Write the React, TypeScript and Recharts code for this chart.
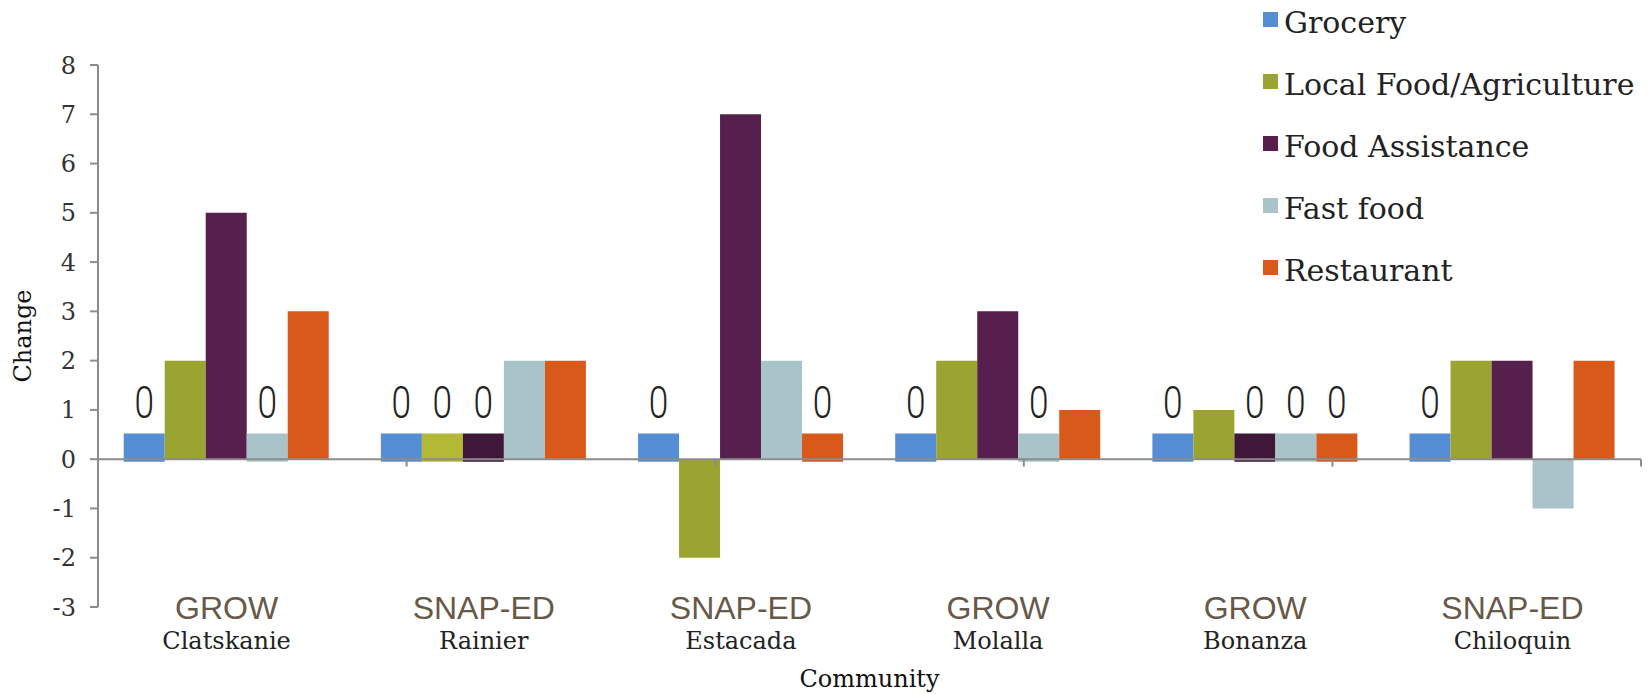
import { BarChart, Bar, XAxis, YAxis, ReferenceLine, Cell, Label } from 'recharts'

const communities = ['Clatskanie', 'Rainier', 'Estacada', 'Molalla', 'Bonanza', 'Chiloquin']
const programs = ['GROW', 'SNAP-ED', 'SNAP-ED', 'GROW', 'GROW', 'SNAP-ED']

const grocery = [0, 0, 0, 0, 0, 0]
const localFood = [2, 0, -2, 2, 1, 2]
const foodAssistance = [5, 0, 7, 3, 0, 2]
const fastFood = [0, 2, 2, 0, 0, -1]
const restaurant = [3, 2, 0, 1, 0, 2]

const yTicks = [-3, -2, -1, 0, 1, 2, 3, 4, 5, 6, 7, 8]
const edgeTicks = [1, 2, 3, 4, 5, 6]

// zero values are drawn as a short stub with a "0" on top, like the original
const ZERO_STUB: [number, number] = [-0.05, 0.52]

const series = [
  { key: 'grocery', name: 'Grocery', values: grocery, color: '#558ed5', zeroColor: '#558ed5' },
  { key: 'localFood', name: 'Local Food/Agriculture', values: localFood, color: '#9ba431', zeroColor: '#b3b935' },
  { key: 'foodAssistance', name: 'Food Assistance', values: foodAssistance, color: '#561f4c', zeroColor: '#3f1738' },
  { key: 'fastFood', name: 'Fast food', values: fastFood, color: '#a8c4c8', zeroColor: '#a8c4c8' },
  { key: 'restaurant', name: 'Restaurant', values: restaurant, color: '#d8591a', zeroColor: '#d8591a' },
]

const data = communities.map((name, i) => {
  const row: Record<string, any> = { name, program: programs[i] }
  series.forEach((s) => {
    row[s.key] = s.values[i]
  })
  return row
})

const SERIF = "'DejaVu Serif', serif"
const SANS = "'Liberation Sans', Arial, sans-serif"

function CommunityTick(props: any) {
  const { x, y, payload, index } = props
  return (
    <g>
      <text x={x} y={y + 12} textAnchor="middle" fill="#675848" fontSize={32} fontFamily={SANS}>
        {programs[index] ?? ''}
      </text>
      <text x={x} y={y + 42} textAnchor="middle" fill="#222" fontSize={24} fontFamily={SERIF}>
        {payload.value}
      </text>
    </g>
  )
}

function zeroLabel(values: number[]) {
  return (props: any) => {
    const { x, y, width, index } = props
    if (values[index] !== 0) return null
    const cx = x + width / 2
    const by = y - 16
    // narrow, thin "0" of the original
    return (
      <text
        x={0}
        y={0}
        transform={`translate(${cx} ${by}) scale(0.8 1)`}
        textAnchor="middle"
        fill="#222"
        fontSize={44}
        fontWeight={300}
        fontFamily="Roboto, 'Liberation Sans', sans-serif"
      >
        0
      </text>
    )
  }
}

function LegendBox() {
  return (
    <div style={{ position: 'absolute', left: 1263, top: -8, fontFamily: SERIF, fontSize: 30, color: '#222' }}>
      {series.map((s) => (
        <div key={s.key} style={{ display: 'flex', alignItems: 'center', height: 62 }}>
          <span style={{ width: 15, height: 15, background: s.color, marginRight: 6, marginTop: -8 }} />
          <span style={{ lineHeight: '62px', whiteSpace: 'nowrap' }}>{s.name}</span>
        </div>
      ))}
    </div>
  )
}

export default function App() {
  return (
    <div style={{ position: 'absolute', left: 0, top: 0, width: 1652, height: 694, background: '#fff' }}>
      <BarChart
        width={1652}
        height={694}
        data={data}
        margin={{ top: 65, right: 11, bottom: 0, left: 0 }}
        barCategoryGap="10%"
        barGap={0}
      >
        <XAxis
          dataKey="name"
          axisLine={false}
          tickLine={false}
          tickSize={0}
          tickMargin={0}
          height={87}
          interval={0}
          tick={<CommunityTick />}
        >
          <Label value="Community" position="insideBottom" offset={7} fill="#111" fontSize={24} fontFamily={SERIF} />
        </XAxis>
        <XAxis xAxisId="edge" type="number" domain={[0, 6]} hide />
        <YAxis
          domain={[-3, 8]}
          ticks={yTicks}
          interval={0}
          width={98}
          axisLine={{ stroke: '#8c8c8c', strokeWidth: 2 }}
          tickLine={{ stroke: '#8c8c8c', strokeWidth: 2 }}
          tickSize={8}
          tickMargin={14}
          tick={{ fill: '#333', fontSize: 24, fontFamily: SERIF }}
          label={({ viewBox }: any) => {
            const cy = viewBox.y + viewBox.height / 2
            return (
              <text x={31} y={cy} textAnchor="middle" fill="#111" fontSize={24} fontFamily={SERIF} transform={`rotate(-90 31 ${cy})`}>
                Change
              </text>
            )
          }}
        />
        {series.map((s) => (
          <Bar
            key={s.key}
            name={s.name}
            dataKey={(d: any) => (d[s.key] === 0 ? ZERO_STUB : d[s.key])}
            fill={s.color}
            isAnimationActive={false}
            label={zeroLabel(s.values)}
          >
            {s.values.map((v, i) => (
              <Cell key={i} fill={v === 0 ? s.zeroColor : s.color} />
            ))}
          </Bar>
        ))}
        <ReferenceLine y={0} stroke="#8c8c8c" strokeWidth={2} />
        {edgeTicks.map((t) => (
          <ReferenceLine
            key={t}
            xAxisId="edge"
            segment={[{ x: t, y: 0 }, { x: t, y: -0.15 }]}
            stroke="#8c8c8c"
            strokeWidth={2}
          />
        ))}
      </BarChart>
      <LegendBox />
    </div>
  )
}
